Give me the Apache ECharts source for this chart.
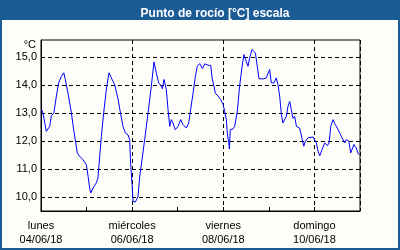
<!DOCTYPE html>
<html>
<head>
<meta charset="utf-8">
<script src="https://cdn.jsdelivr.net/npm/echarts@6/dist/echarts.min.js"></script>
<style>
html,body{margin:0;padding:0;background:#fdfefa;}
#c{width:400px;height:250px;}
</style>
</head>
<body>
<div id="c"></div>
<script>
// hours since lunes 04/06/18 00:00
const hours = [0.2,1,2.8,4.6,5.4,6.3,6.8,8.1,9.3,10.7,12.0,12.8,14.2,16.0,17.2,18.3,19.1,20.4,22.1,23.9,
24.8,25.6,26.2,27.4,29.1,30.0,30.9,31.8,33.0,34.4,35.8,37.0,38.8,40.6,42.0,43.2,44.4,45.8,46.7,47.2,47.9,
48.5,49.7,51.1,52.0,53.2,54.6,56.4,58.1,59.5,60.7,62.0,63.4,63.9,64.8,66.0,66.9,67.8,68.6,69.5,70.7,72.2,
73.6,74.8,76.5,77.8,78.8,80.1,81.3,82.3,83.6,84.1,85.0,86.2,88.0,89.4,90.1,91.1,91.8,93.2,94.6,95.9,96.7,
97.6,98.1,98.9,99.2,99.7,101.1,102.0,103.4,104.6,105.9,106.9,107.8,109.0,109.9,111.1,112.0,112.9,113.9,
114.8,116.9,118.7,119.5,120.4,121.3,122.7,123.9,124.8,125.7,126.6,127.4,128.0,129.2,130.1,131.0,131.8,
132.7,133.6,134.5,135.4,136.2,137.1,137.6,138.4,139.2,140.6,141.5,143.3,144.1,145.0,145.9,146.8,148.0,
149.4,150.8,151.7,152.6,153.8,154.7,156.0,157.3,158.5,160.0,160.8,162.1,163.1,163.8,164.8,166.0,166.9,167.5];
const dewPoint = [13.14,13.0,12.34,12.52,12.9,12.86,13.0,13.6,14.07,14.3,14.43,14.19,13.71,13.0,12.4,11.93,11.57,11.45,11.33,11.15,
10.74,10.32,10.14,10.32,10.5,10.68,11.45,12.16,13.0,13.83,14.43,14.25,14.01,13.48,12.94,12.52,12.29,12.22,12.05,11.21,10.5,
9.84,9.82,10.02,10.74,11.33,12.05,13.0,13.95,14.82,14.43,14.07,13.95,13.86,14.19,13.83,13.12,12.52,12.76,12.64,12.4,12.52,
12.76,12.58,12.46,12.64,13.12,13.71,14.3,14.66,14.76,14.79,14.58,14.75,14.7,14.69,14.25,13.95,13.71,13.6,13.48,13.3,13.06,
12.76,12.29,11.93,11.71,12.4,12.43,12.52,13.06,13.95,14.66,15.08,15.02,14.66,14.96,15.26,15.32,15.14,14.66,
14.22,14.21,14.25,14.3,14.55,14.07,14.07,14.25,14.01,13.6,12.94,12.64,12.58,12.88,13.24,13.41,13.12,
12.8,12.88,12.52,12.58,12.46,12.52,12.05,11.81,11.99,12.11,12.16,12.14,12.16,11.93,11.63,11.47,11.69,
11.93,11.83,11.93,12.52,12.76,12.62,12.46,12.29,12.11,11.93,12.05,11.99,11.57,11.51,11.87,11.75,11.57,11.51];
const dayNames = ['lunes','miércoles','viernes','domingo'];
const dayDates = ['04/06/18','06/06/18','08/06/18','10/06/18'];
const yTicks = [10,11,12,13,14,15];
const titleText = 'Punto de rocío [°C] escala';
const unitText = '°C';

const blue = '#1c5c96';
const font = 'Liberation Sans';
const chart = echarts.init(document.getElementById('c'));
const data = hours.map((h,i)=>[h, dewPoint[i]]);
const dash = {color:'#000', type:[4,3], width:1};

chart.setOption({
  backgroundColor:'#fdfefa',
  animation:false,
  title:{text:titleText, left:210, top:3, textAlign:'center',
    textStyle:{color:'#fff', fontFamily:font, fontWeight:'bold', fontSize:12}},
  graphic:[
    {type:'rect', z:-1, shape:{x:0,y:0,width:400,height:20}, style:{fill:blue}},
    {type:'rect', shape:{x:1,y:1,width:398,height:248}, style:{fill:null, stroke:blue, lineWidth:2}},
    {type:'text', style:{text:unitText, x:36, y:45, align:'right', verticalAlign:'middle', fill:'#000', font:'11px "Liberation Sans"'}}
  ],
  grid:{left:41, right:40, top:40, bottom:39, show:true, borderColor:'#000', borderWidth:1, backgroundColor:'transparent'},
  xAxis:[{
    type:'value', min:0, max:168, interval:24,
    axisLine:{lineStyle:{color:'#000', width:1}},
    axisTick:{inside:true, length:4, lineStyle:{color:'#000'}},
    axisLabel:{color:'#000', fontFamily:font, fontSize:11, lineHeight:14, margin:8,
      showMaxLabel:false,
      formatter:v=>{ if (v%48===0 && v<168){const k=v/48; return dayNames[k]+'\n'+dayDates[k];} return ''; }},
    splitLine:{show:false}
  },{
    type:'value', min:0, max:168, interval:48, position:'bottom',
    axisLine:{show:false}, axisTick:{show:false}, axisLabel:{show:false},
    splitLine:{show:true, lineStyle:dash}
  }],
  yAxis:{
    type:'value', min:9.5, max:15.6,
    axisLine:{lineStyle:{color:'#000'}},
    axisTick:{show:false, customValues:yTicks},
    axisLabel:{customValues:yTicks, color:'#000', fontFamily:font, fontSize:11, margin:4,
      formatter:v=>v.toFixed(1).replace('.',',')},
    splitLine:{show:true, lineStyle:dash}
  },
  series:[{
    type:'line', data:data, xAxisIndex:0, showSymbol:false, symbol:'none',
    lineStyle:{color:'#0000ff', width:1}
  }]
});
</script>
</body>
</html>
